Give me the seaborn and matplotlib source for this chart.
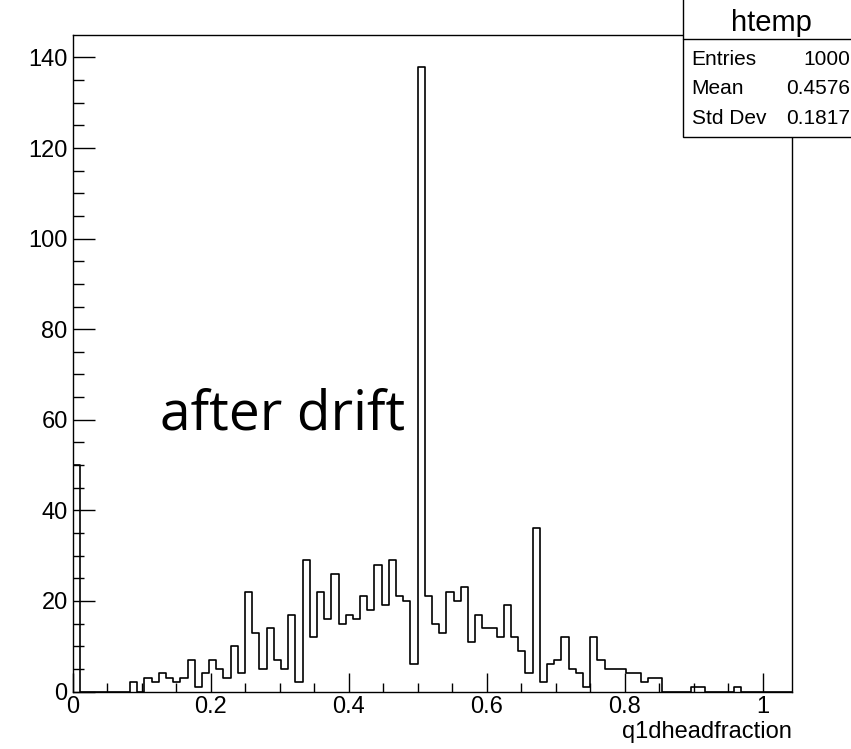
import numpy as np
import pandas as pd
import matplotlib
matplotlib.use("Agg")
import matplotlib.pyplot as plt
import seaborn as sns
from matplotlib.ticker import MultipleLocator, FuncFormatter
from matplotlib.patches import Rectangle
from matplotlib.lines import Line2D

# Histogram definition: 100 equal bins on [0, 100/96]
n_bins = 100
x_min, x_max = 0.0, 100 / 96
bin_counts = [
    50, 0, 0, 0, 0, 0, 0, 0, 2, 0,
    3, 2, 4, 3, 2, 3, 7, 1, 4, 7,
    5, 3, 10, 4, 22, 13, 5, 14, 7, 5,
    17, 2, 29, 12, 22, 16, 26, 15, 17, 16,
    21, 18, 28, 19, 29, 21, 20, 6, 138, 21,
    15, 13, 22, 20, 23, 11, 17, 14, 14, 12,
    19, 12, 9, 4, 36, 2, 6, 7, 12, 5,
    4, 1, 12, 7, 5, 5, 5, 4, 4, 2,
    3, 3, 0, 0, 0, 0, 1, 1, 0, 0,
    0, 0, 1, 0, 0, 0, 0, 0, 0, 0,
]
hist_name = "htemp"
stat_labels = ["Entries", "Mean", "Std Dev"]
stat_values = ["1000", "0.4576", "0.1817"]
x_title = "q1dheadfraction"
annotation = "after drift"

edges = np.linspace(x_min, x_max, n_bins + 1)
centers = 0.5 * (edges[:-1] + edges[1:])
df = pd.DataFrame({"value": centers, "count": bin_counts})

sns.set_style("ticks")
plt.rcParams["font.family"] = ["Liberation Sans", "DejaVu Sans"]
plt.rcParams["text.color"] = "black"
plt.rcParams["xtick.color"] = "black"
plt.rcParams["ytick.color"] = "black"
plt.rcParams["xtick.labelcolor"] = "black"
plt.rcParams["ytick.labelcolor"] = "black"

W, H = 851, 749
fig = plt.figure(figsize=(W / 100, H / 100), dpi=100)
fig.patch.set_facecolor("white")

ax_left, ax_right, ax_bottom, ax_top = 72.5, 791.5, 691.5, 35.3
ax = fig.add_axes([ax_left / W, 1 - ax_bottom / H,
                   (ax_right - ax_left) / W, (ax_bottom - ax_top) / H])

sns.histplot(data=df, x="value", weights="count", bins=edges.tolist(),
             element="step", fill=False, color="black", linewidth=1.2, ax=ax)

ax.set_xlim(x_min, x_max)
ax.set_ylim(0, 1.05 * max(bin_counts))
ax.set_xlabel("")
ax.set_ylabel("")

for side in ["left", "right", "top", "bottom"]:
    ax.spines[side].set_visible(True)
    ax.spines[side].set_color("black")
    ax.spines[side].set_linewidth(1.0)

fmt = FuncFormatter(lambda v, p: f"{v:g}")
ax.xaxis.set_major_locator(MultipleLocator(0.2))
ax.xaxis.set_minor_locator(MultipleLocator(0.05))
ax.yaxis.set_major_locator(MultipleLocator(20))
ax.yaxis.set_minor_locator(MultipleLocator(5))
ax.xaxis.set_major_formatter(fmt)
ax.yaxis.set_major_formatter(fmt)

ax.tick_params(which="both", direction="in", top=False, right=False,
               color="black", labelcolor="black", width=1.0)
ax.tick_params(axis="x", which="major", length=13.5, pad=3.4, labelsize=17)
ax.tick_params(axis="x", which="minor", length=6.8)
ax.tick_params(axis="y", which="major", length=15.8, pad=3.5, labelsize=17)
ax.tick_params(axis="y", which="minor", length=7.9)

# Axis title at the right end of the x axis
fig.text(ax_right / W, 1 - 738 / H, x_title, ha="right", va="baseline",
         fontsize=17, color="black")

# Free-standing annotation
fig.text(160 / W, 1 - 430 / H, annotation, family=["Open Sans", "DejaVu Sans"],
         fontsize=39.7, ha="left", va="baseline", color="black")

# Statistics box in the top right corner
box_left, box_bottom, sep_y = 682.7, 137, 39.3
box = Rectangle((box_left / W, 1 - box_bottom / H), 1.05 - box_left / W,
                box_bottom / H + 0.02, transform=fig.transFigure,
                facecolor="white", edgecolor="black", linewidth=1.0,
                zorder=5, clip_on=False)
fig.add_artist(box)
fig.add_artist(Line2D([box_left / W, 1.0], [1 - sep_y / H] * 2,
                      transform=fig.transFigure, color="black",
                      linewidth=1.0, zorder=6))
fig.text(771 / W, 1 - 30.7 / H, hist_name, ha="center", va="baseline",
         fontsize=21, zorder=7)
row_baselines = [65, 94.3, 124]
for lab, val, yy in zip(stat_labels, stat_values, row_baselines):
    fig.text(691.7 / W, 1 - yy / H, lab, ha="left", va="baseline",
             fontsize=15, zorder=7)
    fig.text(850 / W, 1 - yy / H, val, ha="right", va="baseline",
             fontsize=15, zorder=7)

fig.savefig("out.png", dpi=100, facecolor="white")
